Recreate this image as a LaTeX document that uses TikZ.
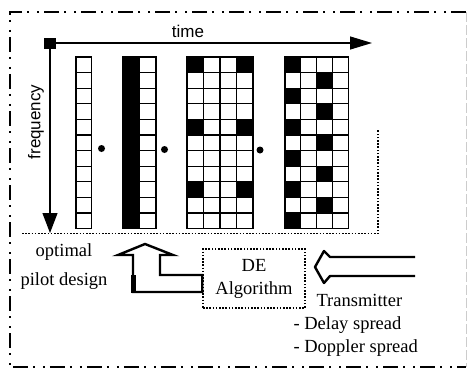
\documentclass[tikz,border=0pt]{standalone}
\usepackage{fontspec}
\setmainfont{Liberation Serif}
\setsansfont{Liberation Sans}
\usetikzlibrary{positioning,arrows.meta}

\tikzset{
  cell/.style={draw, line width=1.3pt},
  border/.style={line width=2pt, dash pattern=on 15pt off 5pt on 2pt off 8pt on 2pt off 5pt},
  dotline/.style={line width=1.6pt, dash pattern=on 1.6pt off 1.6pt},
  hollow/.style={line width=2.4pt, line join=miter},
  serif/.style={font=\fontsize{18.5}{23}\selectfont},
  sans/.style={font=\sffamily\fontsize{17}{20}\selectfont}
}

\newcommand\cellh{15.6}
% one time-frequency grid: left x, columns, column width
\newcommand\ofdmgrid[3]{%
  \foreach \row in {0,...,10}
    \foreach \col in {1,...,#2}
      \draw[cell] ({#1+(\col-1)*#3},{57+\row*\cellh}) rectangle ++(#3,\cellh);}

\begin{document}
\begin{tikzpicture}[x=1pt,y=-1pt]
                \useasboundingbox (0,0) rectangle (467,372);

                % pilot cells
                \fill (123,57) rectangle (139.5,228.6);
                \foreach \row in {0,4,8} {
                    \fill (187,{57+\row*\cellh}) rectangle ++(16.5,\cellh);
                    \fill (236.5,{57+\row*\cellh}) rectangle ++(16.5,\cellh);
                }
                \foreach \row in {0,2,...,10}
                    \fill (285,{57+\row*\cellh}) rectangle ++(15.8,\cellh);
                \foreach \row in {1,3,...,9}
                    \fill (316.6,{57+\row*\cellh}) rectangle ++(15.8,\cellh);

                % grids
                \ofdmgrid{76}{1}{15.5}
                \ofdmgrid{123}{2}{16.5}
                \ofdmgrid{187}{4}{16.5}
                \ofdmgrid{285}{4}{15.8}

                \fill (101.5,148.5) circle (3.5pt);
                \fill (164.5,149.5) circle (3.5pt);
                \fill (260,150) circle (3.5pt);

                % axes
                \node[fill, minimum width=12pt, minimum height=11pt, inner sep=0] (origin) at (50,43) {};
                \coordinate (timeend) at (372,43);
                \coordinate (freqend) at (50,233);
                \draw[line width=1.2pt, -{Triangle[length=22pt,width=13pt]}] (origin.east) -- (timeend);
                \draw[line width=1.2pt, -{Triangle[length=20pt,width=15pt]}] (origin.south) -- (freqend);
                \node[sans] (time) at (188,31) {time};
                \node[sans, rotate=90] (freq) at (36,122) {frequency};

                \draw[dotline] (22,233.5) -- (378,233.5) -- (378,129);

                % algorithm part
                \node[draw, dotline, minimum width=102pt, minimum height=59pt, align=center, serif] (de) at (254,278.5) {DE\\Algorithm};
                \node[font=\fontsize{18.5}{29}\selectfont, align=center] (optimal) at (64,267) {optimal\\pilot design};
                \draw[hollow] (133,292) -- (133,255) -- (118,255) -- (145,244) -- (173,255) -- (160,255)
                    -- (160,275) -- (de.west |- 0,275) -- (de.west |- 0,292) -- cycle;
                \draw[line width=4.5pt] (133.5,275) -- (133.5,293);

                \draw[hollow, line join=round] (415,257) -- (330,257) -- (324,251) -- (315,267)
                    -- (324,283) -- (330,276) -- (415,276);
                \node[serif, anchor=west] (tx) at (313,300) {Transmitter};
                \node[serif, anchor=west] (delay) at (290,325) {- Delay spread};
                \node[serif, anchor=west] (doppler) at (290,348) {- Doppler spread};

                % frame
                \draw[border] (466,12) -- (10,12) -- (10,367) -- (466,367);
                \draw[gray!40, line width=1pt, dash pattern=on 10pt off 3pt] (466,12) -- (466,367);
            \end{tikzpicture}
\end{document}
